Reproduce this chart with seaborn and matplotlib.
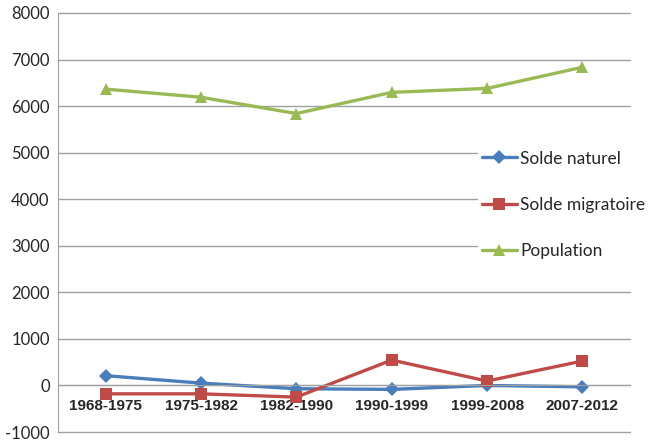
import pandas as pd
import matplotlib.pyplot as plt
from matplotlib.font_manager import FontProperties
import seaborn as sns

periodes = ['1968-1975', '1975-1982', '1982-1990', '1990-1999', '1999-2008', '2007-2012']
solde_naturel = [210, 50, -70, -85, 0, -30]
solde_migratoire = [-180, -180, -250, 545, 95, 525]
population = [6365, 6190, 5840, 6295, 6380, 6835]

series = ['Solde naturel', 'Solde migratoire', 'Population']
couleurs = ['#4A7EBB', '#BE4B48', '#98B954']
marqueurs = ['D', 's', '^']

df = pd.DataFrame({
    'periode': periodes * 3,
    'valeur': solde_naturel + solde_migratoire + population,
    'serie': [s for s in series for _ in periodes],
})
df['x'] = [periodes.index(p) for p in df['periode']]

sns.set_style('white')
plt.rcParams['font.family'] = ['Lato', 'DejaVu Sans']

fig = plt.figure(figsize=(6.55, 4.43), dpi=100)
ax = fig.add_axes([0.0885, 0.0248, 0.8735, 0.9459])

for s, c, m in zip(series, couleurs, marqueurs):
    d = df[df['serie'] == s]
    sns.lineplot(data=d, x='x', y='valeur', ax=ax, color=c, lw=2.4,
                 marker=m, markersize=9 if m != 'D' else 7, markeredgewidth=0,
                 label=s)

# the spine has to move before the labels are set (it resets the ticks)
ax.spines['bottom'].set_position(('data', 0))
ax.spines['bottom'].set_color('#A0A0A0')
ax.spines['left'].set_color('#A0A0A0')
ax.spines['top'].set_visible(False)
ax.spines['right'].set_visible(False)

ax.set_xlim(-0.5, 5.5)
ax.set_ylim(-1000, 8000)
ax.set_yticks(range(-1000, 8001, 1000))
ax.set_yticklabels([str(v) for v in range(-1000, 8001, 1000)], fontsize=12)
ax.yaxis.grid(True, color='#A0A0A0', lw=1)
for gl in ax.get_ygridlines():
    gl.set_clip_on(False)
ax.set_axisbelow(True)

gras = FontProperties(family='Liberation Sans', weight='bold', size=11)
ax.set_xticks(range(len(periodes)))
ax.set_xticklabels(periodes)
for t in ax.get_xticklabels():
    t.set_fontproperties(gras)
ax.set_xticks([i - 0.5 for i in range(len(periodes) + 1)], minor=True)
ax.tick_params(axis='x', which='major', length=0, pad=10)
ax.tick_params(axis='x', which='minor', length=5, color='#A0A0A0', direction='out')
ax.tick_params(axis='y', length=4, color='#A0A0A0', direction='out', pad=2)
ax.set_xlabel('')
ax.set_ylabel('')

leg = ax.legend(loc='upper left', bbox_to_anchor=(0.735, 0.68), fontsize=12.5,
                frameon=True, facecolor='white', edgecolor='none', framealpha=1,
                labelspacing=1.75, handlelength=2.0, handletextpad=0.2,
                borderpad=0.2, borderaxespad=0)
leg.get_frame().set_boxstyle('square', pad=0)

fig.savefig('out.png', dpi=100)
